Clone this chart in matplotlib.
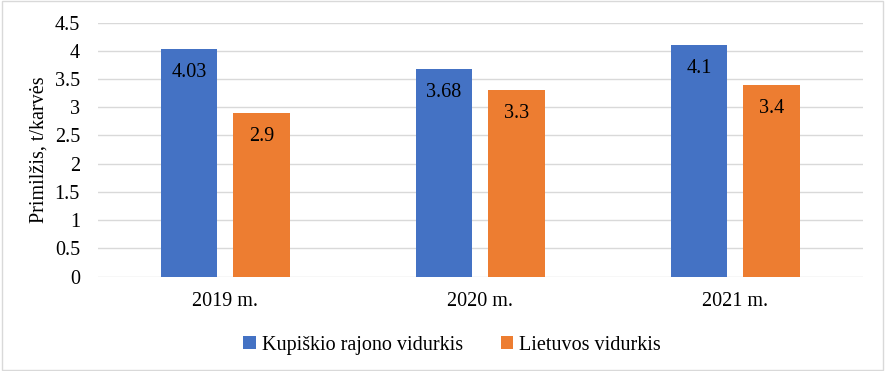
import matplotlib.pyplot as plt
import numpy as np
from matplotlib.patches import Rectangle

plt.rcParams['font.family'] = ['Liberation Serif', 'DejaVu Serif']

years = ['2019 m.', '2020 m.', '2021 m.']
kupiskis = [4.03, 3.68, 4.1]
lietuva = [2.9, 3.3, 3.4]
series_names = ['Kupiškio rajono vidurkis', 'Lietuvos vidurkis']
colors = ['#4472C4', '#ED7D31']

fs = 14.5

fig = plt.figure(figsize=(8.86, 3.71), dpi=100)
ax = fig.add_axes([0.1106, 0.2547, 0.8634, 0.6843])

x = np.arange(len(years))
w = 0.223
bars1 = ax.bar(x - 0.143, kupiskis, w, color=colors[0], label=series_names[0], zorder=3)
bars2 = ax.bar(x + 0.141, lietuva, w, color=colors[1], label=series_names[1], zorder=3)

for bars, vals in [(bars1, kupiskis), (bars2, lietuva)]:
    for b, v in zip(bars, vals):
        ax.annotate(f'{v:g}', (b.get_x() + b.get_width() / 2, v),
                    xytext=(0, -17), textcoords='offset points',
                    ha='center', va='center', fontsize=fs, color='black', zorder=4)

ax.set_xlim(-0.5, 2.5)
ax.set_ylim(0, 4.5)
ax.set_yticks(np.arange(0, 4.51, 0.5))
ax.set_yticklabels([f'{t:g}' for t in np.arange(0, 4.51, 0.5)])
ax.set_xticks(x)
ax.set_xticklabels(years)
ax.tick_params(axis='both', length=0, labelsize=fs, colors='black')
ax.tick_params(axis='y', pad=13)
ax.tick_params(axis='x', pad=11)
ax.grid(axis='y', color='#d9d9d9', linewidth=1, zorder=0)
for s in ax.spines.values():
    s.set_visible(False)

ax.set_ylabel('Primilžis, t/karvės', fontsize=fs)
ax.yaxis.set_label_coords(-0.064, 0.5)

ax.legend(loc='center', bbox_to_anchor=(0.463, -0.27), ncol=2, frameon=False,
          fontsize=fs, handlelength=0.6, handleheight=0.6, handletextpad=0.3,
          columnspacing=1.9)

fig.patches.append(Rectangle((0.002, 0.004), 0.995, 0.992, transform=fig.transFigure,
                             fill=False, edgecolor='#d9d9d9', linewidth=1))

fig.savefig('out.png', dpi=100)
